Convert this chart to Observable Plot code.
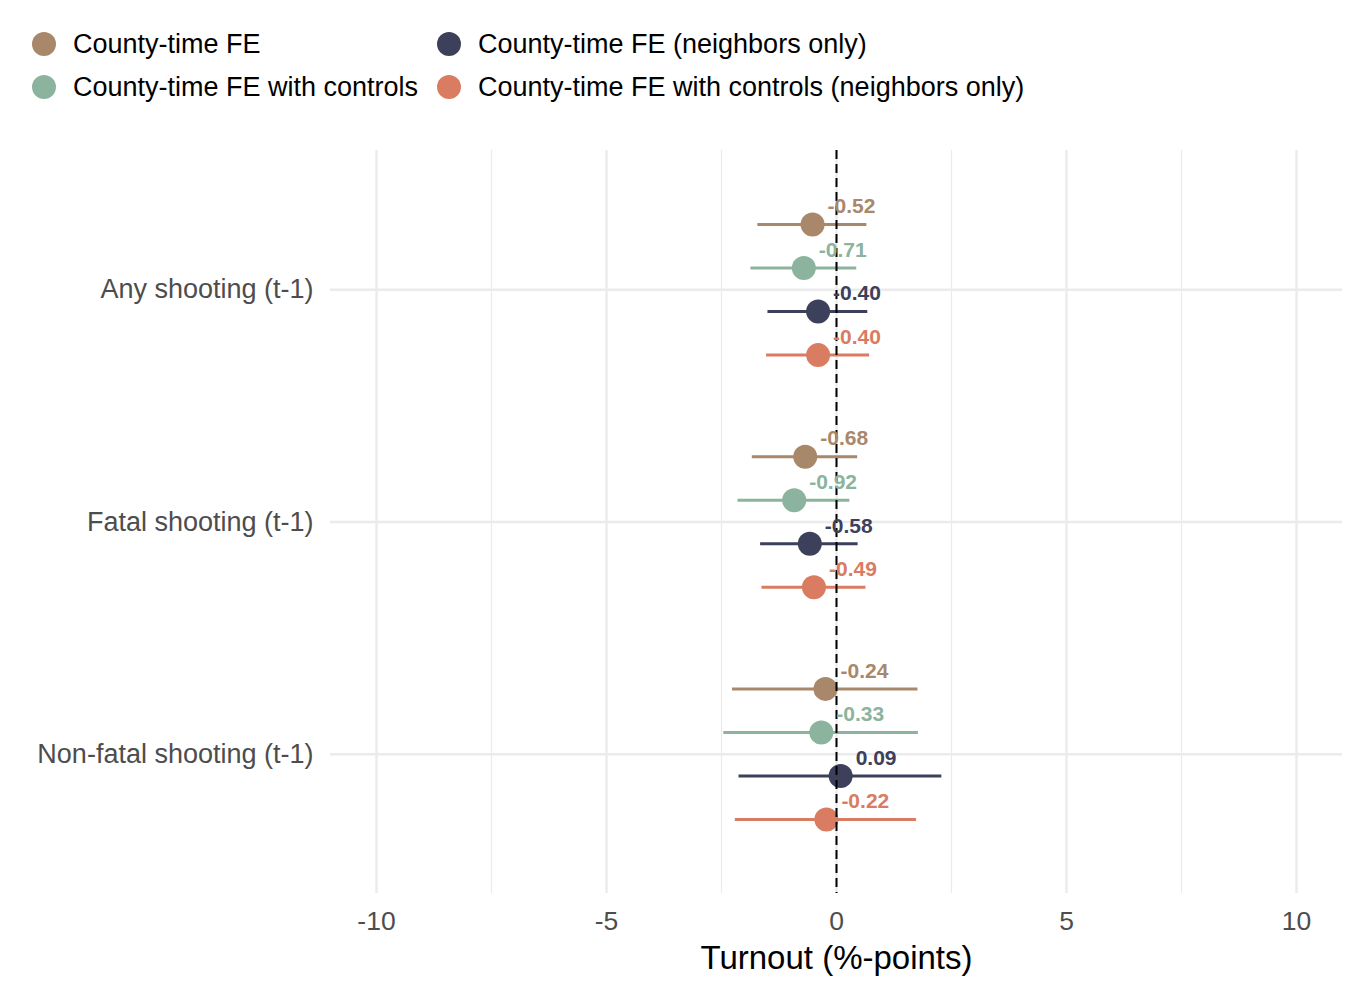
<!DOCTYPE html>
<html>
<head>
<meta charset="utf-8">
<script src="https://cdn.jsdelivr.net/npm/d3@7"></script>
<script src="https://cdn.jsdelivr.net/npm/@observablehq/plot@0.6"></script>
<style>
  html, body { margin: 0; padding: 0; background: #fff; }
  body { width: 1356px; height: 986px; font-family: "Liberation Sans", Arial, Helvetica, sans-serif; overflow: hidden; }
  #legend { position: relative; height: 120px; }
  .item { position: absolute; display: flex; align-items: center; font-size: 27px; color: #000; white-space: nowrap; }
  .sw { width: 24px; height: 24px; border-radius: 50%; margin-right: 17px; }
  #chart svg { display: block; }
</style>
</head>
<body>
<div id="legend"></div>
<div id="chart"></div>
<script>
const categories = ["Any shooting (t-1)", "Fatal shooting (t-1)", "Non-fatal shooting (t-1)"];
const seriesNames = [
  "County-time FE",
  "County-time FE with controls",
  "County-time FE (neighbors only)",
  "County-time FE with controls (neighbors only)"
];
const seriesColors = ["#A9876B", "#8BB39D", "#3D405B", "#D97C61"];

// estimates per series, in category order
const estCountyFE        = [-0.52, -0.68, -0.24];
const estCountyFEctrl    = [-0.71, -0.92, -0.33];
const estNeighbors       = [-0.40, -0.58,  0.09];
const estNeighborsCtrl   = [-0.40, -0.49, -0.22];
// lower / upper confidence bounds
const loCountyFE      = [-1.71, -1.83, -2.26];
const hiCountyFE      = [ 0.66,  0.46,  1.77];
const loCountyFEctrl  = [-1.86, -2.14, -2.45];
const hiCountyFEctrl  = [ 0.44,  0.29,  1.78];
const loNeighbors     = [-1.49, -1.65, -2.12];
const hiNeighbors     = [ 0.68,  0.47,  2.29];
const loNeighborsCtrl = [-1.52, -1.62, -2.20];
const hiNeighborsCtrl = [ 0.72,  0.64,  1.74];

const xTicks = [-10, -5, 0, 5, 10];
const xMinorTicks = [-7.5, -2.5, 2.5, 7.5];
const xLabel = "Turnout (%-points)";

const estimates = [estCountyFE, estCountyFEctrl, estNeighbors, estNeighborsCtrl];
const lows = [loCountyFE, loCountyFEctrl, loNeighbors, loNeighborsCtrl];
const highs = [hiCountyFE, hiCountyFEctrl, hiNeighbors, hiNeighborsCtrl];

const dodge = 0.1875;
const rows = [];
categories.forEach((c, ci) => {
  seriesNames.forEach((s, si) => {
    rows.push({
      category: c,
      series: s,
      pos: ci + (si - 1.5) * dodge,
      est: estimates[si][ci],
      lo: lows[si][ci],
      hi: highs[si][ci],
      label: estimates[si][ci].toFixed(2)
    });
  });
});

// legend
const legend = document.getElementById("legend");
const legendPos = [[32, 44], [32, 87], [437, 44], [437, 87]];
seriesNames.forEach((s, i) => {
  const it = document.createElement("div");
  it.className = "item";
  it.style.left = legendPos[i][0] + "px";
  it.style.top = (legendPos[i][1] - 16) + "px";
  it.style.height = "32px";
  const sw = document.createElement("div");
  sw.className = "sw";
  sw.style.background = seriesColors[i];
  const tx = document.createElement("span");
  tx.textContent = s;
  it.appendChild(sw); it.appendChild(tx);
  legend.appendChild(it);
});

const font = "Liberation Sans, Arial, Helvetica, sans-serif";
const plot = Plot.plot({
  width: 1356,
  height: 866,
  marginLeft: 330,
  marginRight: 14,
  marginTop: 30,
  marginBottom: 93,
  style: { fontFamily: font, background: "#fff" },
  x: { domain: [-11, 11] },
  y: { domain: [-0.6, 2.6], reverse: true },
  color: { domain: seriesNames, range: seriesColors },
  marks: [
    Plot.gridX(xMinorTicks, { stroke: "#ebebeb", strokeOpacity: 1, strokeWidth: 1.2 }),
    Plot.gridX(xTicks, { stroke: "#ebebeb", strokeOpacity: 1, strokeWidth: 2.4 }),
    Plot.gridY([0, 1, 2], { stroke: "#ebebeb", strokeOpacity: 1, strokeWidth: 2.4 }),
    Plot.axisX(xTicks, { tickSize: 0, tickPadding: 18, fontSize: 26.5, fill: "#4d4d4d", label: null, tickFormat: d => String(d) }),
    Plot.axisY([0, 1, 2], { tickSize: 0, tickPadding: 17, fontSize: 27, fill: "#4d4d4d", label: null, tickFormat: d => categories[d] }),
    Plot.ruleY(rows, { y: "pos", x1: "lo", x2: "hi", stroke: "series", strokeWidth: 3 }),
    Plot.dot(rows, { x: "est", y: "pos", fill: "series", r: 12 }),
    Plot.ruleX([0], { stroke: "#000", strokeWidth: 2, strokeDasharray: "9,5" }),
    Plot.text(rows, { x: "est", y: "pos", text: "label", fill: "series", dx: 15, dy: -18, textAnchor: "start", fontWeight: "bold", fontSize: 21 }),
    Plot.text([xLabel], { frameAnchor: "bottom", lineAnchor: "middle", dy: 65, fontSize: 33, fill: "#000", text: d => d })
  ]
});
document.getElementById("chart").appendChild(plot);
</script>
</body>
</html>
